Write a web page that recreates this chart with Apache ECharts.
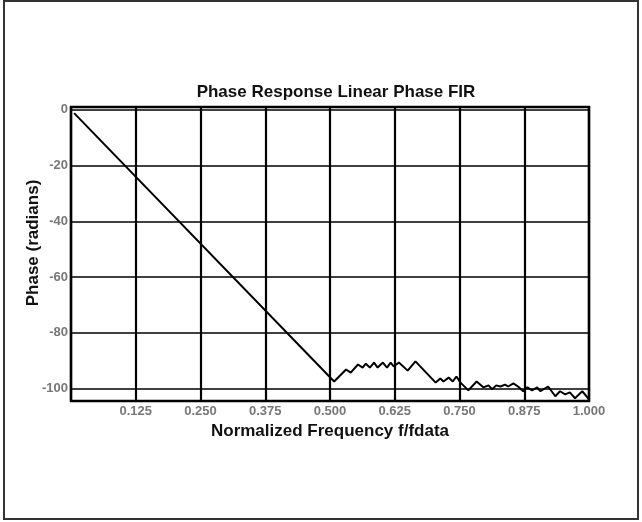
<!DOCTYPE html>
<html>
<head>
<meta charset="utf-8">
<script src="https://cdn.jsdelivr.net/npm/echarts@6/dist/echarts.min.js"></script>
<style>
  html, body { margin: 0; padding: 0; background: #fff; }
  #chart { width: 642px; height: 522px; }
</style>
</head>
<body>
<div id="chart"></div>
<script>
// Normalized frequency (f/fdata) and unwrapped phase (radians) of the FIR response
const freq = [
  0.006, 0.508, 0.531, 0.540, 0.554, 0.563, 0.569, 0.577, 0.585, 0.592,
  0.602, 0.610, 0.617, 0.623, 0.633, 0.650, 0.665, 0.704, 0.713, 0.719,
  0.729, 0.737, 0.744, 0.752, 0.767, 0.783, 0.796, 0.806, 0.813, 0.821,
  0.829, 0.838, 0.844, 0.854, 0.863, 0.873, 0.881, 0.890, 0.900, 0.906,
  0.921, 0.935, 0.944, 0.954, 0.963, 0.973, 0.987, 1.000
];
const phase = [
  -1.2, -97.5, -93.2, -94.3, -91.4, -92.5, -91.1, -92.5, -90.7, -92.5,
  -90.7, -92.5, -90.7, -92.1, -90.7, -93.6, -90.3, -97.9, -96.4, -97.5,
  -96.1, -97.5, -95.7, -97.9, -100.7, -97.5, -99.6, -98.9, -100.3, -98.9,
  -99.3, -98.6, -99.3, -98.2, -99.3, -101.0, -99.6, -100.7, -99.6, -101.0,
  -99.3, -102.8, -101.0, -102.1, -101.4, -103.5, -101.0, -103.9
];
const yTicks = [0, -20, -40, -60, -80, -100];

const chart = echarts.init(document.getElementById('chart'), null, { renderer: 'canvas' });

const FONT = 'Liberation Sans, Arial, sans-serif';
const labelFont = { color: '#777', fontSize: 13, fontWeight: 'bold', fontFamily: FONT };
const nameFont = { fontSize: 17, fontWeight: 'bold', color: '#111', fontFamily: FONT };

chart.setOption({
  animation: false,
  backgroundColor: '#fff',
  title: {
    text: 'Phase Response Linear Phase FIR',
    left: 331, top: 79, textAlign: 'center',
    textStyle: Object.assign({}, nameFont)
  },
  graphic: [{
    type: 'rect', shape: { x: 4, y: 1, width: 634, height: 518 },
    style: { fill: 'none', stroke: '#333', lineWidth: 2 }, silent: true
  }],
  grid: { left: 71, right: 53, top: 107, bottom: 121, show: true, borderColor: '#000', borderWidth: 2.5, backgroundColor: 'transparent' },
  xAxis: {
    type: 'value', min: 0, max: 1, interval: 0.125,
    name: 'Normalized Frequency f/fdata', nameLocation: 'middle', nameGap: 20,
    nameTextStyle: nameFont,
    axisLine: { show: false }, axisTick: { show: false },
    axisLabel: Object.assign({ margin: 4, formatter: v => v === 0 ? '' : v.toFixed(3) }, labelFont),
    splitLine: { show: true, lineStyle: { color: '#000', width: 2.2 } }
  },
  yAxis: {
    type: 'value', min: -104.5, max: 1,
    name: 'Phase (radians)', nameLocation: 'middle', nameGap: 29, nameRotate: 90,
    nameMoveOverlap: false,
    nameTextStyle: Object.assign({ padding: [0, 0, 0, 22] }, nameFont),
    axisLine: { show: false },
    axisTick: { show: false, customValues: yTicks },
    axisLabel: Object.assign({ margin: 3, customValues: yTicks }, labelFont),
    splitLine: { show: false }
  },
  series: [{
    type: 'line',
    data: freq.map((f, i) => [f, phase[i]]),
    showSymbol: false,
    lineStyle: { color: '#000', width: 2 },
    markLine: {
      silent: true, symbol: 'none', label: { show: false },
      lineStyle: { color: '#000', width: 1.6, type: 'solid' },
      data: yTicks.map(v => ({ yAxis: v }))
    }
  }]
});
</script>
</body>
</html>
